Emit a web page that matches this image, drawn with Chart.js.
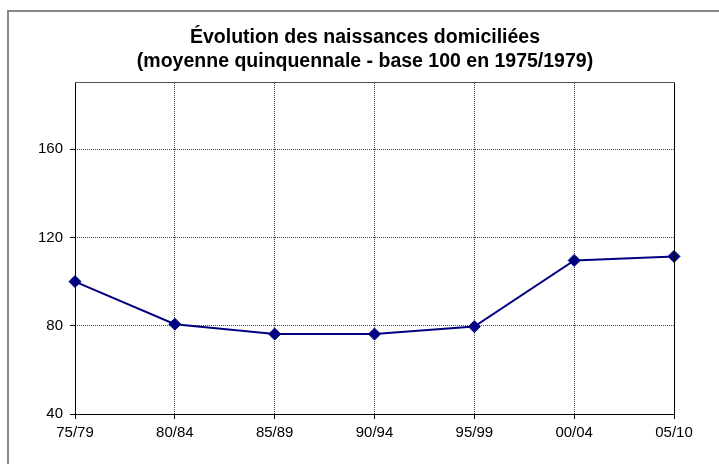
<!DOCTYPE html>
<html>
<head>
<meta charset="utf-8">
<script src="https://cdn.jsdelivr.net/npm/chart.js@4"></script>
<style>
html,body{margin:0;padding:0;background:#fff;}
#wrap{width:719px;height:464px;position:relative;}
</style>
</head>
<body>
<div id="wrap"><canvas id="c" width="719" height="464"></canvas></div>
<script>
const categories = ["75/79","80/84","85/89","90/94","95/99","00/04","05/10"];
const naissances = [100, 80.7, 76.2, 76.2, 79.6, 109.6, 111.4];
const yTicks = [40, 80, 120, 160];
const titleLines = ["Évolution des naissances domiciliées", "(moyenne quinquennale - base 100 en 1975/1979)"];

const align = p => Math.round(p - 0.5) + 0.5;

const frame = {
  id: 'frame',
  afterDraw(chart) {
    const ctx = chart.ctx, a = chart.chartArea;
    ctx.save();
    ctx.strokeStyle = '#888';
    ctx.lineWidth = 2;
    ctx.beginPath();
    ctx.moveTo(8, 470); ctx.lineTo(8, 11); ctx.lineTo(725, 11);
    ctx.stroke();
    const l = align(a.left), r = align(a.right), t = align(a.top), b = align(a.bottom);
    ctx.lineWidth = 1;
    ctx.strokeStyle = '#000';
    ctx.beginPath();
    ctx.moveTo(l, t); ctx.lineTo(l, b); ctx.lineTo(r, b); ctx.lineTo(r, t);
    ctx.stroke();
    ctx.strokeStyle = '#555';
    ctx.beginPath();
    ctx.moveTo(l, t); ctx.lineTo(r, t);
    ctx.stroke();
    ctx.restore();
  }
};

new Chart(document.getElementById('c'), {
  type: 'line',
  data: {
    labels: categories,
    datasets: [{
      data: naissances,
      borderColor: '#000080',
      backgroundColor: '#000080',
      borderWidth: 2,
      pointStyle: 'rectRot',
      pointRadius: 6,
      pointBorderWidth: 1,
      pointHoverRadius: 6,
      tension: 0,
      clip: false
    }]
  },
  options: {
    responsive: false,
    animation: false,
    events: [],
    layout: { padding: { left: 11, right: 0, top: 0, bottom: 0 } },
    plugins: {
      legend: { display: false },
      tooltip: { enabled: false },
      title: {
        display: true,
        text: titleLines,
        color: '#000',
        font: { family: 'Arial, "Liberation Sans", sans-serif', size: 19.5, weight: 'bold', lineHeight: 1.23 },
        padding: { top: 26, bottom: 9 }
      }
    },
    scales: {
      x: {
        offset: false,
        grid: {
          color: '#404040',
          lineWidth: 1,
          drawTicks: true,
          tickLength: 5,
          tickColor: '#000',
          tickBorderDash: []
        },
        border: { display: false, dash: [1, 1] },
        ticks: {
          color: '#000',
          font: { family: 'Arial, "Liberation Sans", sans-serif', size: 15 },
          padding: 5,
          maxRotation: 0,
          autoSkip: false
        },
        afterFit(scale) { scale.height = 50; }
      },
      y: {
        min: 40,
        max: 190,
        afterBuildTicks(scale) { scale.ticks = yTicks.map(v => ({ value: v })); },
        grid: {
          color: '#404040',
          lineWidth: 1,
          drawTicks: true,
          tickLength: 5,
          tickColor: '#000',
          tickBorderDash: []
        },
        border: { display: false, dash: [1, 1] },
        ticks: {
          color: '#000',
          font: { family: 'Arial, "Liberation Sans", sans-serif', size: 15 },
          padding: 7
        },
        afterFit(scale) { scale.width = 64; }
      },
      ySpacer: {
        type: 'linear',
        position: 'right',
        display: true,
        min: 40,
        max: 190,
        grid: { display: false, drawOnChartArea: false, drawTicks: false },
        border: { display: false },
        ticks: { display: false },
        afterFit(scale) { scale.width = 45; }
      }
    }
  },
  plugins: [frame]
});
</script>
</body>
</html>
